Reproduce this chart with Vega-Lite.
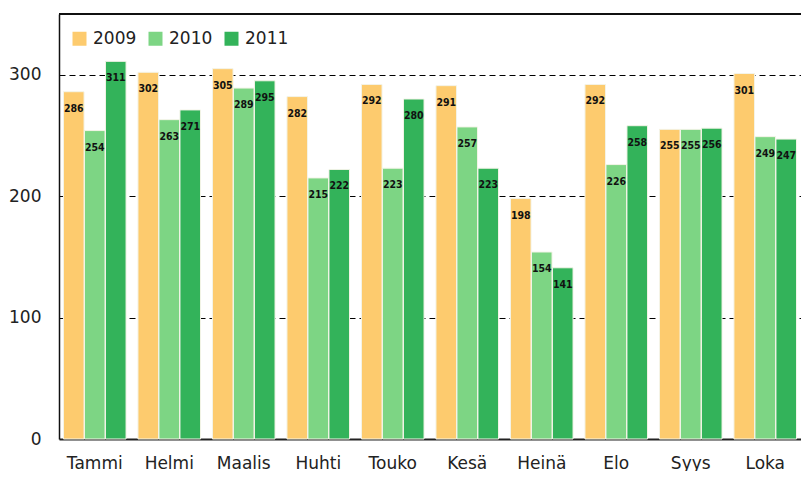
{
  "$schema": "https://vega.github.io/schema/vega-lite/v6.json",
  "width": 742,
  "height": 425,
  "padding": {"left": 8, "top": 13, "right": 0, "bottom": 0},
  "background": "white",
  "config": {
    "view": {"stroke": null},
    "font": "DejaVu Sans"
  },
  "data": {
    "values": [
      {"month": "Tammi", "year": "2009", "value": 286},
      {"month": "Tammi", "year": "2010", "value": 254},
      {"month": "Tammi", "year": "2011", "value": 311},
      {"month": "Helmi", "year": "2009", "value": 302},
      {"month": "Helmi", "year": "2010", "value": 263},
      {"month": "Helmi", "year": "2011", "value": 271},
      {"month": "Maalis", "year": "2009", "value": 305},
      {"month": "Maalis", "year": "2010", "value": 289},
      {"month": "Maalis", "year": "2011", "value": 295},
      {"month": "Huhti", "year": "2009", "value": 282},
      {"month": "Huhti", "year": "2010", "value": 215},
      {"month": "Huhti", "year": "2011", "value": 222},
      {"month": "Touko", "year": "2009", "value": 292},
      {"month": "Touko", "year": "2010", "value": 223},
      {"month": "Touko", "year": "2011", "value": 280},
      {"month": "Kesä", "year": "2009", "value": 291},
      {"month": "Kesä", "year": "2010", "value": 257},
      {"month": "Kesä", "year": "2011", "value": 223},
      {"month": "Heinä", "year": "2009", "value": 198},
      {"month": "Heinä", "year": "2010", "value": 154},
      {"month": "Heinä", "year": "2011", "value": 141},
      {"month": "Elo", "year": "2009", "value": 292},
      {"month": "Elo", "year": "2010", "value": 226},
      {"month": "Elo", "year": "2011", "value": 258},
      {"month": "Syys", "year": "2009", "value": 255},
      {"month": "Syys", "year": "2010", "value": 255},
      {"month": "Syys", "year": "2011", "value": 256},
      {"month": "Loka", "year": "2009", "value": 301},
      {"month": "Loka", "year": "2010", "value": 249},
      {"month": "Loka", "year": "2011", "value": 247}
    ]
  },
  "encoding": {
    "x": {
      "field": "month",
      "type": "nominal",
      "sort": null,
      "scale": {"paddingInner": 0.16, "paddingOuter": 0.06},
      "axis": {
        "title": null,
        "labelAngle": 0,
        "labelFontSize": 17,
        "labelColor": "#222",
        "labelPadding": 16,
        "ticks": false,
        "domainColor": "#222",
        "domainWidth": 2
      }
    },
    "y": {
      "field": "value",
      "type": "quantitative",
      "scale": {"domain": [0, 350], "nice": false},
      "axis": {
        "title": null,
        "values": [0, 100, 200, 300],
        "labelFontSize": 17,
        "labelColor": "#222",
        "labelPadding": 18,
        "ticks": false,
        "domainColor": "#111",
        "domainWidth": 1.5,
        "grid": true,
        "gridColor": "#000",
        "gridDash": [6, 4],
        "gridWidth": 1.2,
        "gridOpacity": {"condition": {"test": "datum.value === 0", "value": 0}, "value": 1}
      }
    },
    "xOffset": {"field": "year", "type": "nominal", "scale": {"paddingInner": 0.02}}
  },
  "layer": [
    {
      "mark": {"type": "bar", "stroke": "#f4f4e8", "strokeWidth": 1},
      "encoding": {
        "color": {
          "field": "year",
          "type": "nominal",
          "scale": {"domain": ["2009", "2010", "2011"], "range": ["#fdcb6e", "#7dd584", "#33b35a"]},
          "legend": {
            "title": null,
            "orient": "none",
            "legendX": 12,
            "legendY": 16,
            "direction": "horizontal",
            "symbolType": "square",
            "symbolSize": 196,
            "symbolStrokeWidth": 0,
            "labelFontSize": 17,
            "labelColor": "#222",
            "labelOffset": 5,
            "columnPadding": 10
          }
        }
      }
    },
    {
      "mark": {"type": "text", "baseline": "middle", "dy": 17, "fontSize": 10.5, "fontWeight": "bold", "color": "#111", "font": "DejaVu Sans Condensed"},
      "encoding": {"text": {"field": "value", "type": "quantitative"}}
    },
    {
      "mark": {"type": "rule", "color": "#111", "strokeWidth": 1.5},
      "encoding": {"y": {"datum": 350}, "x": null, "xOffset": null}
    }
  ]
}
